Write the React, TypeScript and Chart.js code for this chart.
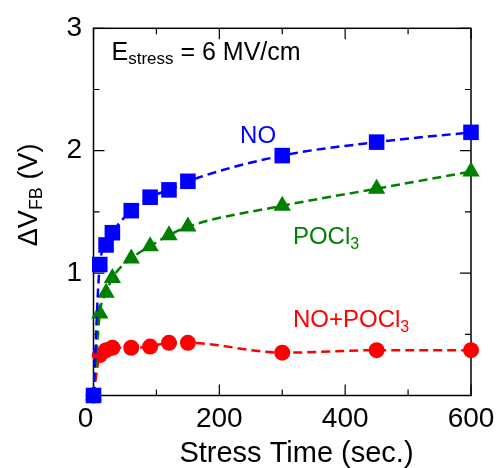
import { useEffect, useRef } from 'react';
import { Chart, registerables } from 'chart.js';

Chart.register(...registerables);

// ---- data ----
const stressTimes = [0, 10, 20, 30, 60, 90, 120, 150, 300, 450, 600];
const noValues = [0, 1.07, 1.23, 1.33, 1.51, 1.62, 1.68, 1.75, 1.96, 2.07, 2.15];
const poclValues = [0, 0.67, 0.84, 0.96, 1.12, 1.22, 1.31, 1.38, 1.55, 1.69, 1.83];
const noPoclValues = [0, 0.33, 0.37, 0.39, 0.39, 0.4, 0.43, 0.43, 0.35, 0.37, 0.37];
const xTickLabels = ['0', '200', '400', '600'];
const yTickLabels = ['1', '2', '3'];

const FONT = '"Liberation Sans", Arial, Helvetica, sans-serif';
const BLUE = '#0000ff';
const GREEN = '#008000';
const RED = '#ff0000';

function toPoints(vals: number[]) {
  return stressTimes.map((t, i) => ({ x: t, y: vals[i] }));
}

function drawRich(
  ctx: CanvasRenderingContext2D,
  parts: { text: string; size: number; dy: number }[],
  x: number,
  y: number,
  align: 'left' | 'center'
) {
  let total = 0;
  parts.forEach((p) => {
    ctx.font = `${p.size}px ${FONT}`;
    total += ctx.measureText(p.text).width;
  });
  let cx = align === 'center' ? x - total / 2 : x;
  ctx.textAlign = 'left';
  ctx.textBaseline = 'alphabetic';
  parts.forEach((p) => {
    ctx.font = `${p.size}px ${FONT}`;
    ctx.fillText(p.text, cx, y + p.dy);
    cx += ctx.measureText(p.text).width;
  });
}

const framePlugin = {
  id: 'frame',
  beforeDatasetsDraw(chart: any) {
    const { ctx, chartArea: a, scales } = chart;
    const x = scales.x;
    const y = scales.y;
    ctx.save();
    ctx.strokeStyle = '#000';
    ctx.lineWidth = 1.5;
    ctx.strokeRect(a.left, a.top, a.right - a.left, a.bottom - a.top);
    ctx.lineWidth = 1.2;
    ctx.beginPath();
    x.ticks.forEach((t: any) => {
      const px = x.getPixelForValue(t.value);
      const len = t.value % 200 === 0 ? 11 : 6;
      ctx.moveTo(px, a.bottom);
      ctx.lineTo(px, a.bottom - len);
      ctx.moveTo(px, a.top);
      ctx.lineTo(px, a.top + len);
    });
    y.ticks.forEach((t: any) => {
      const py = y.getPixelForValue(t.value);
      const len = Number.isInteger(t.value) ? 11 : 6;
      ctx.moveTo(a.left, py);
      ctx.lineTo(a.left + len, py);
      ctx.moveTo(a.right, py);
      ctx.lineTo(a.right - len, py);
    });
    ctx.stroke();

    // x tick labels
    ctx.fillStyle = '#000';
    ctx.font = `28px ${FONT}`;
    ctx.textAlign = 'center';
    ctx.textBaseline = 'alphabetic';
    x.ticks.forEach((t: any) => {
      const idx = xTickLabels.indexOf(String(t.value));
      if (idx < 0) return;
      let px = x.getPixelForValue(t.value);
      if (t.value === 0) px -= 8;
      ctx.fillText(xTickLabels[idx], px, a.bottom + 31);
    });
    ctx.restore();
  },
  afterDraw(chart: any) {
    const { ctx, chartArea: a, scales } = chart;
    const x = scales.x;
    const y = scales.y;
    ctx.save();
    // x title
    ctx.fillStyle = '#000';
    drawRich(ctx, [{ text: 'Stress Time (sec.)', size: 29, dy: 0 }], 296.5, 461.5, 'center');
    // y title
    ctx.save();
    ctx.translate(37, (a.top + a.bottom) / 2 - 17);
    ctx.rotate(-Math.PI / 2);
    drawRich(
      ctx,
      [
        { text: '\u0394V', size: 27, dy: 0 },
        { text: 'FB', size: 18, dy: 5 },
        { text: ' (V)', size: 27, dy: 0 },
      ],
      0,
      0,
      'center'
    );
    ctx.restore();

    // annotation: E_stress
    drawRich(
      ctx,
      [
        { text: 'E', size: 25, dy: 0 },
        { text: 'stress', size: 17, dy: 4 },
        { text: ' = 6 MV/cm', size: 25, dy: 0 },
      ],
      a.left + 18,
      59.5,
      'left'
    );
    // series labels
    ctx.fillStyle = BLUE;
    drawRich(ctx, [{ text: 'NO', size: 24, dy: 0 }], x.getPixelForValue(233), y.getPixelForValue(2.06), 'left');
    ctx.fillStyle = GREEN;
    drawRich(
      ctx,
      [
        { text: 'POCl', size: 24, dy: 0 },
        { text: '3', size: 16, dy: 5 },
      ],
      x.getPixelForValue(317),
      y.getPixelForValue(1.24),
      'left'
    );
    ctx.fillStyle = RED;
    drawRich(
      ctx,
      [
        { text: 'NO+POCl', size: 24, dy: 0 },
        { text: '3', size: 16, dy: 5 },
      ],
      x.getPixelForValue(317),
      y.getPixelForValue(0.557),
      'left'
    );
    ctx.restore();
  },
};

export default function App() {
  const canvasRef = useRef<HTMLCanvasElement | null>(null);

  useEffect(() => {
    document.body.style.margin = '0';
    const canvas = canvasRef.current;
    if (!canvas) return;
    const common = {
      showLine: true,
      borderWidth: 2.5,
      borderDash: [9, 5],
      cubicInterpolationMode: 'monotone' as const,
      clip: false as any,
      pointBorderWidth: 0,
    };
    const chart = new Chart(canvas, {
      type: 'scatter',
      data: {
        datasets: [
          {
            ...common,
            label: 'NO',
            data: toPoints(noValues),
            borderColor: BLUE,
            backgroundColor: BLUE,
            pointBackgroundColor: BLUE,
            pointStyle: 'rect',
            pointRadius: 11,
          },
          {
            ...common,
            label: 'POCl3',
            data: toPoints(poclValues),
            borderColor: GREEN,
            backgroundColor: GREEN,
            pointBackgroundColor: GREEN,
            pointStyle: 'triangle',
            pointRadius: 10,
          },
          {
            ...common,
            label: 'NO+POCl3',
            data: toPoints(noPoclValues),
            borderColor: RED,
            backgroundColor: RED,
            pointBackgroundColor: RED,
            pointStyle: 'circle',
            pointRadius: 8,
          },
        ],
      },
      options: {
        responsive: false,
        devicePixelRatio: 1,
        animation: false,
        events: [],
        layout: { padding: { left: 0, right: 28, top: 23, bottom: 0 } },
        plugins: {
          legend: { display: false },
          tooltip: { enabled: false },
        },
        scales: {
          x: {
            type: 'linear',
            min: 0,
            max: 600,
            grid: { display: false, drawTicks: false },
            border: { display: false },
            ticks: { stepSize: 100, display: false },
            afterFit: (s: any) => {
              s.height = 72.5;
            },
          },
          y: {
            type: 'linear',
            min: 0,
            max: 3,
            grid: { display: false, drawTicks: false },
            border: { display: false },
            ticks: {
              stepSize: 0.5,
              padding: 11.5,
              color: '#000',
              font: { family: FONT, size: 28 },
              callback: (v: any) => {
                const s = String(v);
                return yTickLabels.includes(s) ? s : '';
              },
            },
            afterFit: (s: any) => {
              s.width = 93.5;
            },
          },
        },
      },
      plugins: [framePlugin],
    });
    return () => chart.destroy();
  }, []);

  return (
    <div style={{ position: 'absolute', left: 0, top: 0, width: 499, height: 468 }}>
      <canvas ref={canvasRef} width={499} height={468} />
    </div>
  );
}
